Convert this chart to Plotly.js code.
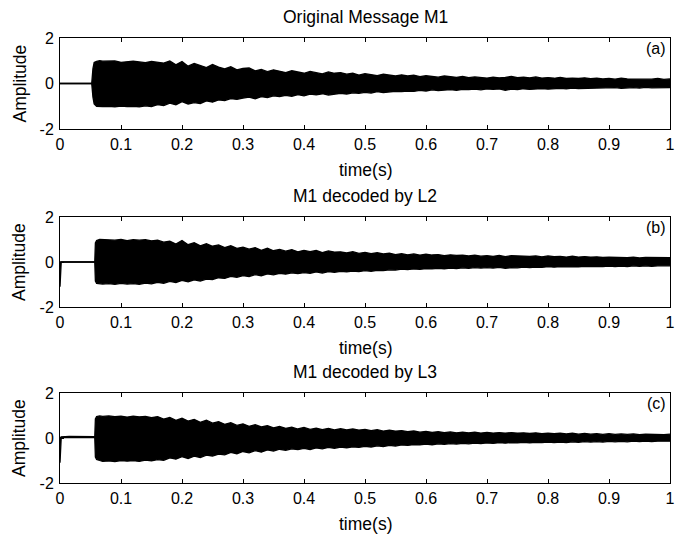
<!DOCTYPE html>
<html><head><meta charset="utf-8">
<script src="https://cdn.plot.ly/plotly-3.0.1.min.js"></script>
<style>html,body{margin:0;padding:0;background:#fff;}#chart{width:676px;height:534px;}</style>
</head><body><div id="chart"></div>
<script>
// ---- Data ----
const panelTitles = ["Original Message M1", "M1 decoded by L2", "M1 decoded by L3"];
const panelTags = ["(a)", "(b)", "(c)"];
const xTickVals = [0, 0.1, 0.2, 0.3, 0.4, 0.5, 0.6, 0.7, 0.8, 0.9, 1];
const yTickVals = [-2, 0, 2];

// common time samples for the envelope (s)
const tTail = [0.07,0.08,0.09,0.10,0.11,0.12,0.13,0.14,0.15,0.16,
  0.17,0.18,0.19,0.20,0.21,0.22,0.23,0.24,0.25,0.26,
  0.27,0.28,0.29,0.30,0.31,0.32,0.33,0.34,0.35,0.36,
  0.37,0.38,0.39,0.40,0.41,0.42,0.43,0.44,0.45,0.46,
  0.47,0.48,0.49,0.50,0.51,0.52,0.53,0.54,0.55,0.56,
  0.57,0.58,0.59,0.60,0.61,0.62,0.63,0.64,0.65,0.66,
  0.67,0.68,0.69,0.70,0.71,0.72,0.73,0.74,0.75,0.76,
  0.77,0.78,0.79,0.80,0.81,0.82,0.83,0.84,0.85,0.86,
  0.87,0.88,0.89,0.90,0.91,0.92,0.93,0.94,0.95,0.96,
  0.97,0.98,0.99,1.00];

// (a) Original message: upper / lower envelope
const tHeadA = [0, 0.052, 0.054, 0.056, 0.060, 0.065];
const upHeadA = [0, 0, 0.65, 0.92, 0.97, 1.0];
const loHeadA = [0, 0, -0.6, -0.9, -1.0, -1.02];
const upA = [0.98,0.97,0.99,0.93,0.97,0.98,0.95,0.92,0.97,0.93,
  0.90,0.99,0.82,0.97,0.76,0.88,0.80,0.70,0.84,0.72,
  0.64,0.74,0.60,0.66,0.68,0.56,0.62,0.52,0.60,0.55,
  0.48,0.56,0.50,0.45,0.53,0.47,0.42,0.51,0.45,0.48,
  0.41,0.45,0.37,0.43,0.39,0.35,0.41,0.36,0.33,0.38,
  0.33,0.37,0.30,0.34,0.31,0.28,0.33,0.29,0.27,0.31,
  0.26,0.29,0.27,0.24,0.28,0.25,0.27,0.31,0.26,0.28,
  0.25,0.29,0.24,0.26,0.23,0.27,0.22,0.24,0.22,0.25,
  0.21,0.23,0.20,0.22,0.19,0.23,0.20,0.19,0.21,0.20,
  0.19,0.22,0.18,0.20];
const loA = [-1.02,-1.00,-1.03,-0.99,-1.02,-1.00,-1.03,-0.98,-1.01,-0.93,
  -0.97,-0.86,-0.94,-0.80,-0.90,-0.84,-0.88,-0.76,-0.82,-0.72,
  -0.75,-0.66,-0.70,-0.64,-0.60,-0.67,-0.58,-0.62,-0.54,-0.57,
  -0.52,-0.56,-0.49,-0.54,-0.47,-0.50,-0.45,-0.51,-0.46,-0.43,
  -0.46,-0.41,-0.43,-0.39,-0.42,-0.36,-0.40,-0.37,-0.34,-0.36,
  -0.33,-0.35,-0.30,-0.33,-0.28,-0.31,-0.29,-0.27,-0.30,-0.26,
  -0.27,-0.25,-0.28,-0.24,-0.26,-0.24,-0.30,-0.25,-0.27,-0.23,
  -0.26,-0.24,-0.22,-0.25,-0.23,-0.21,-0.24,-0.20,-0.22,-0.21,
  -0.22,-0.19,-0.21,-0.20,-0.18,-0.21,-0.19,-0.18,-0.20,-0.17,
  -0.19,-0.18,-0.20,-0.18];

// (b) decoded by L2
const tHeadB = [0, 0.002, 0.057, 0.058, 0.060, 0.065];
const upHeadB = [0, 0, 0, 0.85, 0.95, 1.0];
const loHeadB = [-1.1, 0, 0, -0.85, -0.95, -0.98];
const upB = [0.99,1.00,0.97,1.00,0.95,0.99,0.97,0.99,0.94,0.97,
  0.88,0.93,0.80,0.96,0.77,0.86,0.72,0.81,0.70,0.76,
  0.64,0.72,0.61,0.66,0.57,0.64,0.52,0.61,0.50,0.56,
  0.48,0.55,0.45,0.52,0.46,0.51,0.42,0.49,0.44,0.45,
  0.40,0.46,0.38,0.43,0.37,0.41,0.36,0.39,0.33,0.37,
  0.32,0.36,0.30,0.35,0.31,0.33,0.28,0.32,0.29,0.30,
  0.27,0.30,0.26,0.28,0.25,0.29,0.24,0.28,0.26,0.27,
  0.25,0.27,0.23,0.27,0.24,0.25,0.22,0.26,0.22,0.24,
  0.21,0.23,0.20,0.22,0.20,0.21,0.19,0.22,0.18,0.20,
  0.19,0.20,0.18,0.19];
const loB = [-0.98,-0.96,-0.99,-0.95,-0.98,-0.96,-0.99,-0.94,-0.97,-0.90,
  -0.95,-0.86,-0.91,-0.82,-0.88,-0.79,-0.85,-0.76,-0.78,-0.70,
  -0.73,-0.64,-0.68,-0.61,-0.65,-0.56,-0.61,-0.53,-0.57,-0.50,
  -0.54,-0.48,-0.52,-0.47,-0.50,-0.44,-0.49,-0.43,-0.46,-0.42,
  -0.44,-0.40,-0.43,-0.38,-0.41,-0.37,-0.38,-0.35,-0.36,-0.32,
  -0.34,-0.31,-0.33,-0.29,-0.31,-0.28,-0.30,-0.27,-0.29,-0.26,
  -0.28,-0.25,-0.27,-0.25,-0.27,-0.24,-0.28,-0.25,-0.26,-0.23,
  -0.25,-0.23,-0.24,-0.21,-0.23,-0.21,-0.22,-0.20,-0.22,-0.19,
  -0.21,-0.19,-0.21,-0.18,-0.20,-0.18,-0.20,-0.17,-0.19,-0.17,
  -0.19,-0.17,-0.18,-0.17];

// (c) decoded by L3
const tHeadC = [0, 0.002, 0.015, 0.03, 0.045, 0.057, 0.058, 0.060, 0.065];
const upHeadC = [0, 0.05, 0.07, 0.06, 0.07, 0.06, 0.85, 0.95, 0.98];
const loHeadC = [-1.1, 0.02, 0.03, 0.02, 0.03, 0.02, -0.85, -0.95, -1.0];
const upC = [0.96,0.98,0.95,0.97,0.93,0.97,0.94,0.96,0.91,0.95,
  0.84,0.91,0.78,0.88,0.75,0.83,0.70,0.79,0.66,0.73,
  0.61,0.68,0.56,0.63,0.52,0.59,0.49,0.55,0.45,0.51,
  0.43,0.48,0.40,0.47,0.38,0.44,0.37,0.43,0.36,0.41,
  0.36,0.40,0.35,0.38,0.33,0.37,0.31,0.35,0.30,0.33,
  0.28,0.31,0.26,0.29,0.25,0.28,0.24,0.27,0.23,0.26,
  0.23,0.26,0.22,0.25,0.22,0.24,0.21,0.24,0.21,0.23,
  0.20,0.23,0.19,0.22,0.19,0.21,0.18,0.21,0.17,0.20,
  0.17,0.19,0.16,0.19,0.16,0.18,0.16,0.18,0.15,0.17,
  0.16,0.18,0.15,0.17];
const loC = [-1.04,-1.02,-1.05,-1.00,-1.03,-1.01,-1.04,-0.98,-1.02,-0.96,
  -0.99,-0.88,-0.94,-0.83,-0.91,-0.81,-0.87,-0.76,-0.80,-0.72,
  -0.75,-0.64,-0.70,-0.60,-0.66,-0.56,-0.63,-0.53,-0.58,-0.50,
  -0.55,-0.48,-0.52,-0.46,-0.51,-0.44,-0.48,-0.42,-0.46,-0.40,
  -0.44,-0.39,-0.42,-0.37,-0.40,-0.35,-0.38,-0.33,-0.36,-0.31,
  -0.33,-0.29,-0.31,-0.27,-0.30,-0.26,-0.28,-0.25,-0.27,-0.24,
  -0.26,-0.23,-0.25,-0.22,-0.24,-0.21,-0.23,-0.20,-0.22,-0.19,
  -0.22,-0.19,-0.21,-0.18,-0.21,-0.18,-0.20,-0.17,-0.19,-0.16,
  -0.18,-0.16,-0.18,-0.15,-0.17,-0.15,-0.17,-0.14,-0.16,-0.14,
  -0.16,-0.14,-0.15,-0.14];

// ---- Build figure ----
const W = 676, H = 534;
const px = v => v / W;
const py = v => 1 - v / H;
const FONT = "Liberation Sans, Arial, Helvetica, sans-serif";
const LABEL_SIZE = 17.5;
const TICK_SIZE = 16;

const panels = [
  {t: tHeadA.concat(tTail), up: upHeadA.concat(upA), lo: loHeadA.concat(loA), top: 38, bot: 129},
  {t: tHeadB.concat(tTail), up: upHeadB.concat(upB), lo: loHeadB.concat(loB), top: 217, bot: 307},
  {t: tHeadC.concat(tTail), up: upHeadC.concat(upC), lo: loHeadC.concat(loC), top: 393, bot: 483}
];
const left = 60, right = 670;

const data = [];
const layout = {
  width: W, height: H,
  margin: {l: 0, r: 0, t: 0, b: 0},
  paper_bgcolor: "#fff", plot_bgcolor: "#fff",
  showlegend: false,
  font: {family: FONT, size: LABEL_SIZE, color: "#000"},
  annotations: []
};

panels.forEach((p, i) => {
  const n = i === 0 ? "" : String(i + 1);
  const xa = "x" + n, ya = "y" + n;
  data.push({x: p.t, y: p.up, xaxis: xa, yaxis: ya, type: "scatter", mode: "lines",
    line: {color: "#000", width: 1.3}, hoverinfo: "skip"});
  data.push({x: p.t, y: p.lo, xaxis: xa, yaxis: ya, type: "scatter", mode: "lines",
    line: {color: "#000", width: 1.3}, fill: "tonexty", fillcolor: "#000", hoverinfo: "skip"});
  const common = {showline: true, linecolor: "#000", linewidth: 1, mirror: "ticks",
    ticks: "inside", ticklen: 4, tickcolor: "#000", tickwidth: 1,
    showgrid: false, zeroline: false, tickfont: {family: FONT, size: TICK_SIZE, color: "#000"}};
  layout["xaxis" + n] = Object.assign({}, common, {
    domain: [px(left), px(right)], range: [0, 1], tickvals: xTickVals,
    ticktext: xTickVals.map(v => String(v)), anchor: ya, ticklabelstandoff: 1});
  layout["yaxis" + n] = Object.assign({}, common, {
    domain: [py(p.bot), py(p.top)], range: [-2, 2], tickvals: yTickVals,
    ticktext: yTickVals.map(v => String(v)), anchor: xa, ticklabelstandoff: 2});
  const mid = (p.top + p.bot) / 2;
  layout.annotations.push(
    {text: panelTitles[i], xref: "paper", yref: "paper", x: px((left + right) / 2), y: py(p.top - 21),
     xanchor: "center", yanchor: "middle", showarrow: false, font: {family: FONT, size: LABEL_SIZE, color: "#000"}},
    {text: "time(s)", xref: "paper", yref: "paper", x: px((left + right) / 2), y: py(p.bot + 41),
     xanchor: "center", yanchor: "middle", showarrow: false, font: {family: FONT, size: LABEL_SIZE, color: "#000"}},
    {text: "Amplitude", xref: "paper", yref: "paper", x: px(19), y: py(mid), textangle: -90,
     xanchor: "center", yanchor: "middle", showarrow: false, font: {family: FONT, size: LABEL_SIZE, color: "#000"}},
    {text: panelTags[i], xref: "paper", yref: "paper", x: px(656), y: py(p.top + 10),
     xanchor: "center", yanchor: "middle", showarrow: false, font: {family: FONT, size: 16, color: "#000"}}
  );
});

Plotly.newPlot("chart", data, layout, {staticPlot: true, displayModeBar: false});
</script>
</body></html>
